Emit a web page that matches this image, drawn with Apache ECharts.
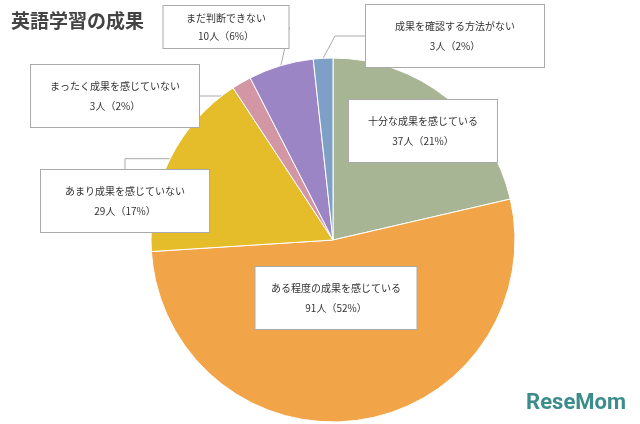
<!DOCTYPE html>
<html>
<head>
<meta charset="utf-8">
<script src="https://cdn.jsdelivr.net/npm/echarts@6/dist/echarts.min.js"></script>
<style>html,body{margin:0;padding:0;background:#fff}#chart{width:640px;height:424px}</style>
</head>
<body>
<div id="chart"></div>
<script>
// 英語学習の成果
var names = ['十分な成果を感じている','ある程度の成果を感じている','あまり成果を感じていない','まったく成果を感じていない','まだ判断できない','成果を確認する方法がない'];
var counts = [37, 91, 29, 3, 10, 3];
var percents = [21, 52, 17, 2, 6, 2];
var colors = ['#a8b594','#f2a548','#e5bc2a','#d296a5','#9b85c4','#7fa0c6'];
// 吹き出しの位置と大きさ
var boxPos = [[423,131],[336,298],[125,201],[115,96],[226,27],[455,36]];
var boxW = [148,161,168,168,125,178];

var data = names.map(function(n, i){
	return {
		name: n,
		value: counts[i],
		itemStyle: {color: colors[i]},
		label: {
			width: boxW[i],
			padding: i == 4 ? [3,0] : [11,0],
			lineHeight: i == 4 ? 18 : 20
		},
		labelLine: {show: i > 1}
	};
});

var chart = echarts.init(document.getElementById('chart'));
chart.setOption({
	animation: false,
	title: {
		text: '英語学習の成果',
		left: 6, top: 6,
		textStyle: {fontSize: 19, fontWeight: 'bold', color: '#444', fontFamily: 'Noto Sans CJK JP'}
	},
	graphic: [{
		type: 'text', right: 14, bottom: 10,
		style: {text: 'ReseMom', fontSize: 22, fontWeight: 'bold', fill: '#3d8c8c', fontFamily: 'Roboto'}
	}],
	series: [{
		type: 'pie',
		center: [333, 240],
		radius: 182,
		startAngle: 90,
		clockwise: true,
		data: data,
		itemStyle: {borderColor: '#fff', borderWidth: 1},
		label: {
			formatter: function(p){ return p.name + '\n' + p.value + '人（' + percents[p.dataIndex] + '%）'; },
			fontSize: 10,
			color: '#333',
			align: 'center',
			overflow: 'none',
			backgroundColor: '#fff',
			borderColor: '#aaa',
			borderWidth: 1,
			fontFamily: 'Noto Sans CJK JP'
		},
		labelLine: {lineStyle: {color: '#aaa'}},
		labelLayout: function(p){
			var b = boxPos[p.dataIndex];
			return {x: b[0], y: b[1], align: 'center', verticalAlign: 'middle'};
		}
	}]
});
</script>
</body>
</html>
